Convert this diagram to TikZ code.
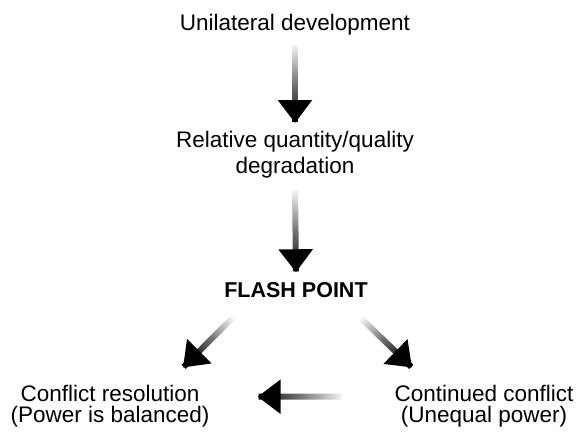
\documentclass[tikz,border=0pt]{standalone}
\usepackage{fontspec}
\setmainfont{Liberation Sans}
\usetikzlibrary{arrows.meta, positioning, fadings, calc}

\tikzfading[name=fadein, top color=transparent!100, bottom color=transparent!0,
    middle color=transparent!45]

% faded shaft, then a solid head on its end
\newcommand\flowarrow[3][0]{%
  \draw[shaft, fading angle=#1] (#2) -- (#3);
  \draw[head] ($(#3)!1pt!(#2)$) -- (#3);
}

\begin{document}
\begin{tikzpicture}[
    x=1pt, y=1pt,
    lbl/.style={align=center, inner sep=0pt, font=\fontsize{22.5}{21}\selectfont},
    shaft/.style={line width=6pt, shorten >=12pt, path fading=fadein},
    head/.style={line width=6pt, -{Triangle[width=33pt, length=23pt]}}
]
\useasboundingbox (0,0) rectangle (578,-432);

\node[lbl, anchor=base] (uni) at (295,-30) {Unilateral development};

\node[lbl, anchor=base, font=\fontsize{22.5}{26}\selectfont] (rel) at (295,-173)
    {Relative quantity/quality\\degradation};

\node[lbl, anchor=base, font=\fontsize{21.5}{20}\selectfont\bfseries] (flash) at (296,-297) {FLASH POINT};

\node[lbl, anchor=base] (res) at (110,-422) {Conflict resolution\\(Power is balanced)};

\node[lbl, anchor=base] (cont) at (484,-422) {Continued conflict\\(Unequal power)};

% arrow ends
\coordinate (u1) at ([yshift=-10pt]uni.south);
\coordinate (r1) at ([yshift=7.5pt]rel.north);
\coordinate (r2) at ([yshift=-12pt]rel.south);
\coordinate (f1) at ([yshift=9.5pt]flash.north);
\coordinate (fl) at ([shift={(-56,-13)}]flash.south);
\coordinate (fr) at ([shift={(57,-13)}]flash.south);
\coordinate (rt) at ([shift={(73,17)}]res.north);
\coordinate (ct) at ([shift={(-72,17)}]cont.north);
\coordinate (cl) at ([shift={(-52,9)}]cont.west);
\coordinate (rr) at ([shift={(48,9)}]res.east);

\flowarrow{u1}{r1}
\flowarrow{r2}{f1}
\flowarrow[-45]{fl}{rt}
\flowarrow[45]{fr}{ct}
\flowarrow[-90]{cl}{rr}

\end{tikzpicture}
\end{document}
